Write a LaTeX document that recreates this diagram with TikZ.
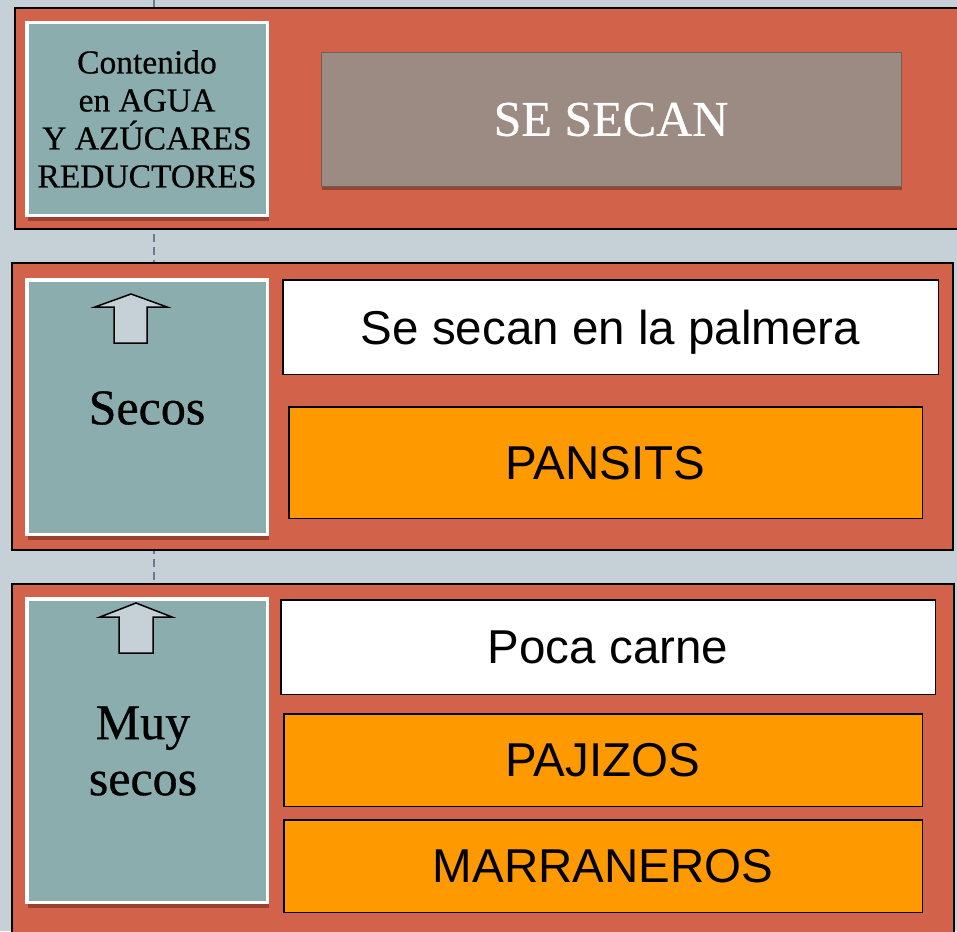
\documentclass[tikz,border=0pt]{standalone}
\usepackage{fontspec}
\setmainfont[FakeBold=0.6]{Liberation Serif}
\newfontfamily\arialf{Liberation Sans}
\usetikzlibrary{shadows}
\definecolor{bgc}{HTML}{C5D1D7}
\definecolor{panelc}{HTML}{D2634A}
\definecolor{tealc}{HTML}{8BADAD}
\definecolor{greyc}{HTML}{9B8B82}
\definecolor{greyedge}{HTML}{6E5F58}
\definecolor{orangec}{HTML}{FF9900}
\definecolor{dashc}{HTML}{6A7A9A}
\tikzset{
  panel/.style={draw=black, line width=2pt, fill=panelc, inner sep=0pt, outer sep=0pt},
  tealbox/.style={draw=white, line width=3.5pt, fill=tealc, inner sep=0pt, outer sep=0pt,
    drop shadow={shadow xshift=1.5pt, shadow yshift=-6pt, fill=black!80!red, opacity=0.35},
    minimum width=240.5pt, align=center, font=\fontsize{33.5}{38}\selectfont},
  greybox/.style={draw=greyedge, line width=1pt, fill=greyc, inner sep=0pt, outer sep=0pt,
    drop shadow={shadow xshift=1pt, shadow yshift=-4pt, fill=black, opacity=0.3},
    text=white, font=\fontsize{50}{56}\selectfont},
  whitebox/.style={draw=black, line width=1.5pt, fill=white, inner sep=0pt, outer sep=0pt,
    text depth=0pt, font=\arialf\fontsize{47.5}{52}\selectfont},
  orangebox/.style={draw=black, line width=1.5pt, fill=orangec, inner sep=0pt, outer sep=0pt,
    text depth=0pt, font=\arialf\fontsize{47.5}{52}\selectfont},
  uparrow/.style={draw=black, line width=1.5pt, fill=bgc, line join=miter},
  dashline/.style={draw=dashc, line width=1.8pt, dash pattern=on 8pt off 5pt}
}
\begin{document}
\begin{tikzpicture}[x=1pt,y=-1pt]
\useasboundingbox (0,0) rectangle (957,931);
\fill[bgc] (0,0) rectangle (957,931);
\coordinate (ltop) at (154,0);
\coordinate (lbot) at (154,931);
\draw[dashline] (ltop) -- (lbot);

% panels
\node[panel, minimum width=948pt, minimum height=221pt] (p1) at (489,118.5) {};
\node[panel, minimum width=941pt, minimum height=287pt] (p2) at (482.5,406.5) {};
\node[panel, minimum width=942pt, minimum height=366pt] (p3) at (483,767) {};

% left boxes
\node[tealbox, minimum height=192.5pt] (t1) at (147,119) {Contenido\\en AGUA\\Y AZÚCARES\\REDUCTORES};
\node[tealbox, minimum height=254.5pt] (t2) at (147,407) {};
\node[tealbox, minimum height=303.5pt] (t3) at (147,750.5) {};
\node[font=\fontsize{50}{56}\selectfont] (secos) at (147,408) {Secos};
\node[font=\fontsize{50}{56}\selectfont, align=center] (muysecos) at (143,751) {Muy\\secos};

% arrows
\draw[uparrow] (131,294) -- (167,307) -- (147,307) -- (147,343) -- (114,343) -- (114,307) -- (95,307) -- cycle;
\draw[uparrow] (136,603) -- (172,617) -- (153,617) -- (153,653) -- (119,653) -- (119,617) -- (100,617) -- cycle;

% right boxes
\node[greybox, minimum width=580pt, minimum height=133pt] (secan) at (611,119.5) {SE SECAN};
\node[whitebox, minimum width=655.5pt, minimum height=94.5pt] (palmera) at (610.5,327) {Se secan en la palmera};
\node[orangebox, minimum width=633.5pt, minimum height=111.5pt] (pansits) at (605.5,462.5) {PANSITS};
\node[whitebox, minimum width=654.5pt, minimum height=94.5pt] (poca) at (608,647) {Poca carne};
\node[orangebox, minimum width=638.5pt, minimum height=92.5pt] (pajizos) at (603,760) {PAJIZOS};
\node[orangebox, minimum width=638.5pt, minimum height=92.5pt] (marraneros) at (603,866) {MARRANEROS};
\end{tikzpicture}
\end{document}
